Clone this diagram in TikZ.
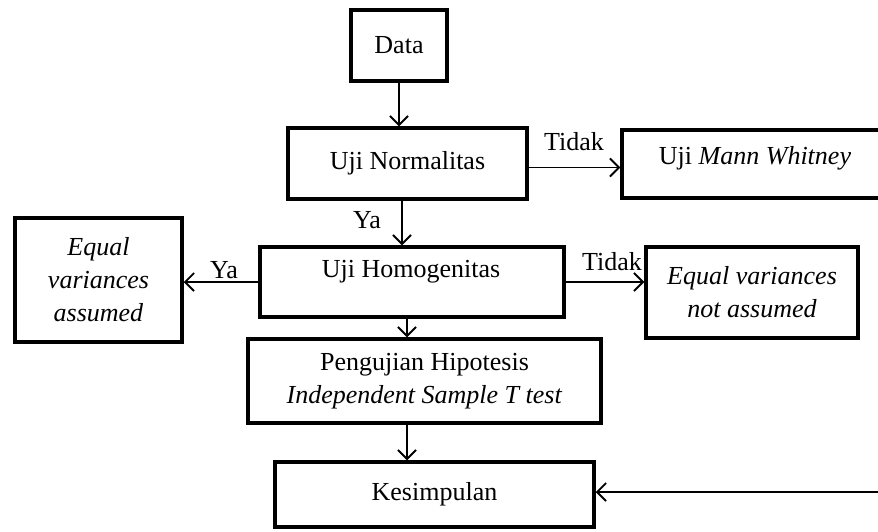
\documentclass[tikz,border=0pt]{standalone}
\usepackage{fontspec}
\setmainfont{Liberation Serif}
\usetikzlibrary{arrows.meta}
\begin{document}
\begin{tikzpicture}[x=1pt,y=-1pt,
  box/.style={draw=black,line width=3.5pt,minimum width=#1,inner sep=0pt,align=center,
    font=\fontsize{26}{33}\selectfont},
  arr/.style={draw=black,line width=1.8pt,-{Straight Barb[length=9pt,width=18pt]}},
  lab/.style={font=\fontsize{26}{31}\selectfont,inner sep=0pt}]
\useasboundingbox (0,0) rectangle (878,531);
\clip (0,0) rectangle (878,531);
\fill[white] (0,0) rectangle (878,531);
\node[box=96pt,minimum height=71pt] (data) at (399,45.5) {Data};
\node[box=239pt,minimum height=71pt] (norm) at (407.5,163.5) {Uji Normalitas};
\node[box=280pt,minimum height=68pt] (mann) at (762,164) {};
\node[lab] (manntxt) at (755,158) {Uji \textit{Mann Whitney}};
\node[box=304pt,minimum height=70pt] (homog) at (412,282) {};
\node[lab] (homogtxt) at (411,272) {Uji Homogenitas};
\node[box=167pt,minimum height=124pt] (eqa) at (98.5,280) {\textit{Equal}\\\textit{variances}\\\textit{assumed}};
\node[box=212pt,minimum height=91pt] (eqn) at (752,292.5) {\textit{Equal variances}\\\textit{not assumed}};
\node[box=353pt,minimum height=84pt] (peng) at (424.5,381) {Pengujian Hipotesis\\\textit{Independent Sample T test}};
\node[box=319pt,minimum height=65pt] (kes) at (434.5,494.5) {Kesimpulan};
\coordinate (r) at (880,492);
% connectors
\draw[arr] (data.south) -- (data.south |- norm.north);
\draw[arr] ([xshift=3pt]norm.south -| data) -- ([xshift=3pt]homog.north -| data);
\draw[arr] ([yshift=-4pt]norm.east) -- ([yshift=-4pt]norm.east -| mann.west);
\draw[arr] (homog.west) -- (homog.west -| eqa.east);
\draw[arr] (homog.east) -- (homog.east -| eqn.west);
\draw[arr] ([xshift=-5pt]homog.south) -- ([xshift=-5pt]homog.south |- peng.north);
\draw[arr] ([xshift=-5pt]homog.south |- peng.south) -- ([xshift=-5pt]homog.south |- kes.north);
\draw[arr] (r) -- (r -| kes.east);
% labels
\node[lab] (t1) at (574,142) {Tidak};
\node[lab] (y1) at (367,220) {Ya};
\node[lab] (y2) at (224,270) {Ya};
\node[lab] (t2) at (612,262) {Tidak};
\end{tikzpicture}
\end{document}
